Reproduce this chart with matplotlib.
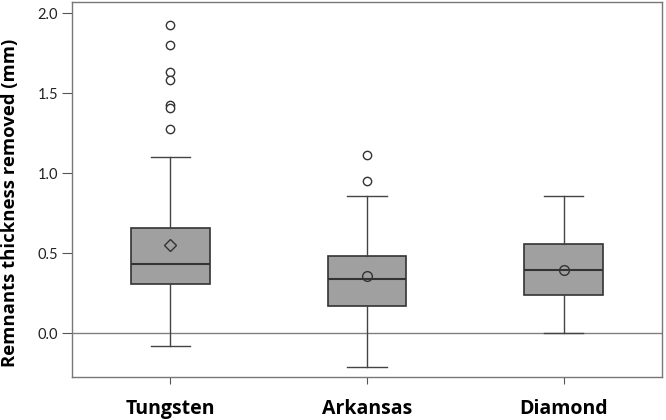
import matplotlib
matplotlib.use("Agg")
import matplotlib.pyplot as plt

categories = ["Tungsten", "Arkansas", "Diamond"]
q1 = [0.304, 0.171, 0.240]
median = [0.433, 0.340, 0.394]
q3 = [0.660, 0.479, 0.554]
whislo = [-0.079, -0.210, 0.000]
whishi = [1.104, 0.860, 0.860]
means = [0.550, 0.356, 0.394]
mean_markers = ["D", "o", "o"]
fliers = [
    [1.925, 1.80, 1.635, 1.585, 1.425, 1.405, 1.275],
    [1.114, 0.952],
    [],
]
yticks = [0.0, 0.5, 1.0, 1.5, 2.0]

fig = plt.figure(figsize=(6.66, 4.2), dpi=100)
ax = fig.add_axes([0.108, 0.1024, 0.886, 0.8926])

stats = []
for i, c in enumerate(categories):
    stats.append(dict(label=c, q1=q1[i], med=median[i], q3=q3[i],
                      whislo=whislo[i], whishi=whishi[i], fliers=fliers[i]))

pos = [1, 2, 3]
ax.axhline(0, color="#808080", lw=1.0, zorder=1)
ax.bxp(stats, positions=pos, widths=0.4, patch_artist=True, showfliers=True,
       boxprops=dict(facecolor="#a0a0a0", edgecolor="#333333", lw=1.2),
       medianprops=dict(color="#333333", lw=1.5),
       whiskerprops=dict(color="#444444", lw=1.0),
       capprops=dict(color="#444444", lw=1.0),
       capwidths=0.2,
       flierprops=dict(marker="o", markerfacecolor="white", markeredgecolor="#333333",
                       markersize=6, markeredgewidth=1.0),
       zorder=2)
for i in range(3):
    ax.plot(pos[i], means[i], marker=mean_markers[i], markersize=7 if mean_markers[i] == "o" else 6,
            markerfacecolor="none", markeredgecolor="#333333", markeredgewidth=1.0, zorder=4)

ax.set_xlim(0.5, 3.5)
ax.set_ylim(-0.275, 2.07)
ax.set_yticks(yticks)
ax.set_yticklabels([f"{v:.1f}" for v in yticks], fontsize=10.5, family="Lato", color="#222222")
ax.set_xticks(pos)
ax.set_xticklabels(categories, fontsize=14, fontweight="bold", family="Open Sans")
ax.tick_params(axis="y", direction="out", length=7, width=0.8, color="#555555", pad=3)
ax.tick_params(axis="x", direction="out", length=5, width=0.8, color="#555555", pad=11)
for s in ax.spines.values():
    s.set_color("#777777")
    s.set_linewidth(1.0)
ax.set_ylabel("Remnants thickness removed (mm)", fontsize=13.3, fontweight="bold",
              family="Open Sans")
ax.yaxis.set_label_coords(-0.09, 0.464)

fig.savefig("out.png", dpi=100)
